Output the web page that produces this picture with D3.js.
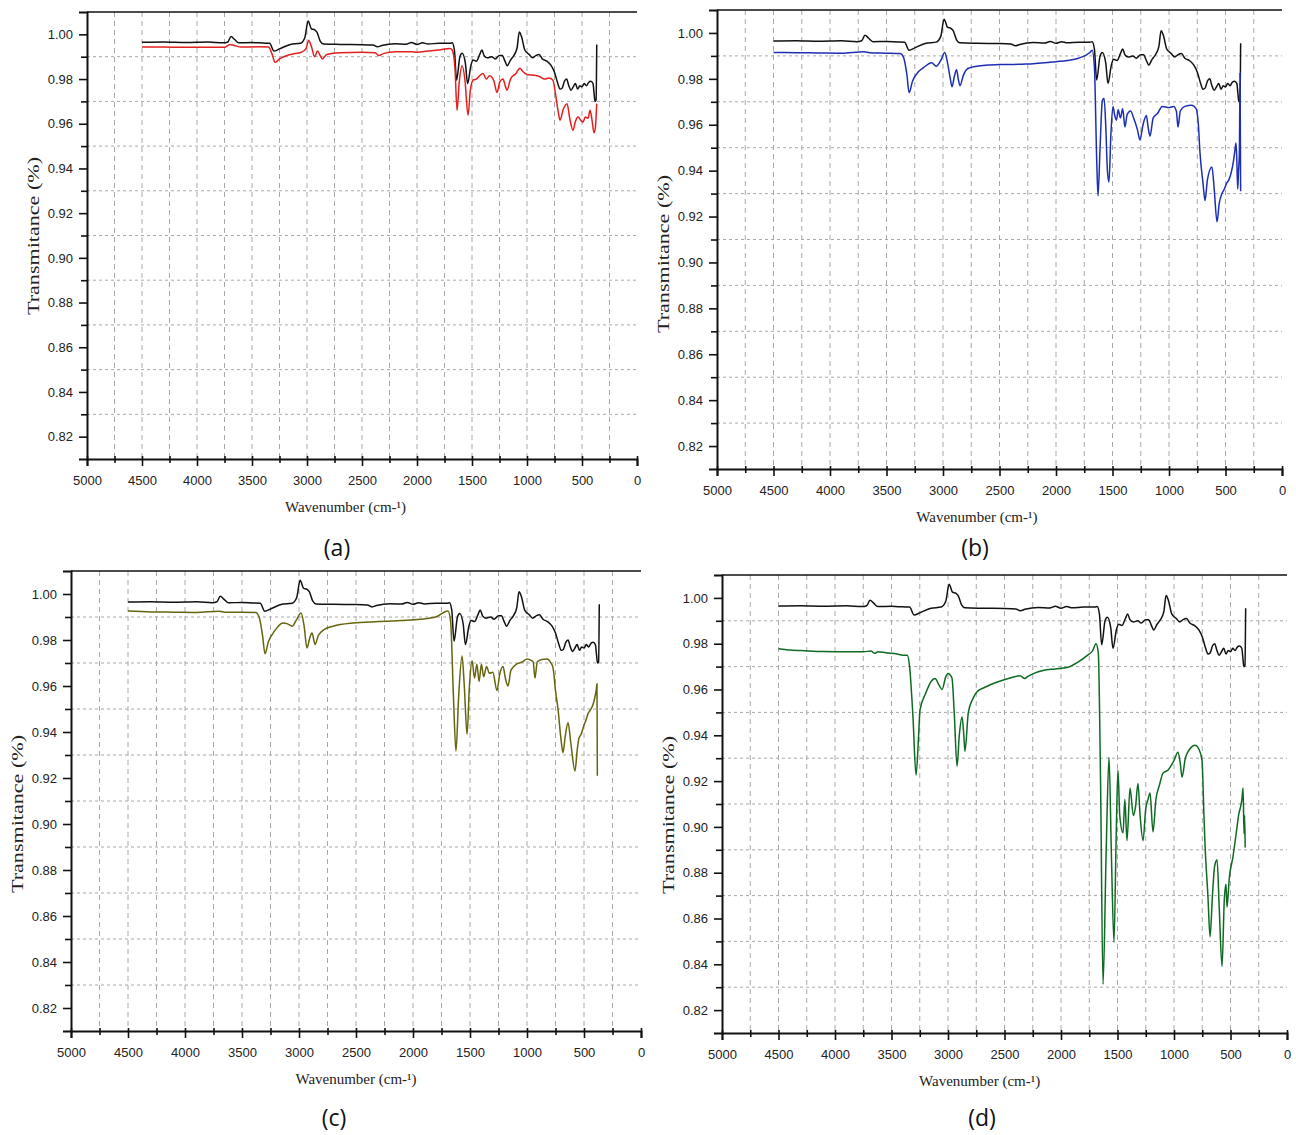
<!DOCTYPE html>
<html>
<head>
<meta charset="utf-8">
<script src="https://cdn.jsdelivr.net/npm/d3@7"></script>
<style>
  body { margin: 0; background: #fff; }
  svg { display: block; }
  .tick-label { font-family: "Liberation Sans", Arial, sans-serif; font-size: 13px; fill: #222; }
  .axis-title { font-family: "Liberation Serif", "Times New Roman", serif; font-size: 15px; fill: #222; }
  .panel-label { font-family: "Open Sans", "Noto Sans", sans-serif; font-size: 23px; fill: #111; }
</style>
</head>
<body>
<svg id="chart" width="1296" height="1135"></svg>
<script>
// FTIR spectra, [wavenumber, transmittance]
var reference = [
  [4500,0.9965],[4300,0.9966],[4100,0.9964],[3900,0.9966],[3760,0.9962],[3720,0.9966],[3690,0.999],[3660,0.9978],[3620,0.9962],
  [3500,0.9963],[3400,0.9961],[3340,0.996],[3300,0.9925],[3250,0.9935],[3150,0.9955],[3060,0.996],[3020,0.9985],[2990,1.006],
  [2960,1.0025],[2930,1.002],[2910,1.001],[2880,0.997],[2850,0.9957],[2700,0.9955],[2500,0.9954],[2400,0.9952],[2360,0.9944],
  [2320,0.995],[2200,0.9958],[2100,0.9956],[2050,0.9963],[2000,0.9955],[1950,0.9962],[1900,0.9957],[1800,0.996],[1700,0.996],
  [1680,0.9962],[1660,0.993],[1640,0.9795],[1610,0.990],[1590,0.9915],[1560,0.987],[1540,0.978],[1510,0.986],[1490,0.9885],
  [1460,0.988],[1430,0.991],[1410,0.993],[1390,0.9905],[1360,0.9895],[1320,0.990],[1290,0.989],[1250,0.9905],[1225,0.9905],
  [1200,0.988],[1180,0.986],[1150,0.9885],[1120,0.9905],[1090,0.994],[1070,1.001],[1050,0.999],[1020,0.993],[980,0.991],
  [950,0.9895],[920,0.9905],[890,0.991],[860,0.989],[820,0.988],[780,0.986],[750,0.983],[720,0.978],[700,0.9755],[680,0.976],
  [660,0.979],[640,0.980],[620,0.977],[600,0.975],[580,0.9765],[560,0.978],[540,0.9755],[520,0.977],[500,0.9765],[480,0.978],
  [460,0.977],[440,0.9785],[420,0.979],[400,0.978],[390,0.9735],[382,0.970],[372,0.9705],[366,0.9955]
];

var sampleA = [
  [4500,0.9943],[4300,0.9943],[4100,0.9942],[3900,0.9942],[3750,0.9942],[3700,0.9955],[3660,0.995],[3600,0.9943],[3450,0.9944],
  [3350,0.9943],[3320,0.9915],[3290,0.9875],[3250,0.989],[3150,0.991],[3050,0.992],[3010,0.9935],[2985,0.9972],[2960,0.9945],
  [2930,0.990],[2905,0.9925],[2880,0.9905],[2860,0.989],[2820,0.991],[2700,0.9918],[2500,0.992],[2380,0.9918],[2350,0.9905],
  [2300,0.9915],[2200,0.9922],[2050,0.9922],[2000,0.992],[1900,0.9925],[1800,0.993],[1700,0.9937],[1680,0.993],[1655,0.985],
  [1636,0.966],[1615,0.979],[1590,0.986],[1565,0.980],[1536,0.9638],[1515,0.975],[1490,0.9795],[1460,0.980],[1430,0.9815],
  [1400,0.9825],[1370,0.980],[1340,0.9815],[1300,0.979],[1273,0.974],[1245,0.979],[1218,0.980],[1195,0.9765],[1182,0.975],
  [1150,0.980],[1100,0.9825],[1064,0.9848],[1040,0.9835],[1000,0.982],[945,0.9817],[910,0.9815],[882,0.981],[840,0.980],
  [800,0.9805],[764,0.9795],[740,0.973],[715,0.965],[700,0.9616],[670,0.9665],[636,0.969],[610,0.962],[582,0.957],[560,0.961],
  [536,0.963],[510,0.9615],[491,0.9607],[470,0.963],[445,0.9625],[427,0.966],[410,0.962],[391,0.956],[378,0.9585],[366,0.969]
];

var sampleB = [
  [4500,0.9915],[4300,0.9914],[4100,0.9913],[3900,0.9912],[3700,0.9918],[3650,0.9914],[3500,0.9912],[3380,0.991],[3350,0.9895],
  [3320,0.982],[3300,0.974],[3270,0.979],[3220,0.983],[3170,0.985],[3100,0.987],[3060,0.9855],[3020,0.988],[2985,0.9915],
  [2960,0.987],[2935,0.980],[2920,0.9766],[2900,0.981],[2880,0.984],[2865,0.980],[2850,0.977],[2820,0.9815],[2780,0.9845],
  [2700,0.9855],[2600,0.986],[2500,0.9863],[2400,0.9862],[2300,0.9864],[2200,0.9866],[2100,0.987],[2000,0.9875],[1900,0.988],
  [1800,0.989],[1700,0.9915],[1680,0.9925],[1660,0.985],[1640,0.945],[1628,0.929],[1610,0.950],[1590,0.9705],[1575,0.9716],
  [1560,0.960],[1545,0.940],[1531,0.935],[1515,0.955],[1496,0.968],[1480,0.964],[1465,0.962],[1450,0.9665],[1430,0.963],
  [1410,0.967],[1390,0.959],[1370,0.9645],[1340,0.966],[1310,0.9625],[1280,0.958],[1257,0.9534],[1230,0.960],[1200,0.964],
  [1185,0.959],[1168,0.955],[1140,0.963],[1100,0.965],[1060,0.968],[1000,0.9675],[960,0.968],[935,0.966],[920,0.959],
  [900,0.966],[860,0.968],[800,0.9685],[760,0.967],[740,0.960],[726,0.948],[700,0.935],[681,0.927],[660,0.936],[620,0.9416],
  [600,0.932],[575,0.9177],[555,0.926],[531,0.930],[510,0.932],[490,0.9345],[470,0.936],[450,0.939],[430,0.944],[415,0.9495],
  [407,0.952],[400,0.945],[392,0.932],[385,0.9395],[377,0.948],[371,0.9825],[366,0.931]
];

var sampleC = [
  [4500,0.9926],[4300,0.9922],[4100,0.9921],[3900,0.992],[3700,0.9925],[3650,0.9921],[3500,0.9921],[3380,0.992],[3350,0.990],
  [3320,0.982],[3298,0.974],[3270,0.979],[3220,0.9835],[3140,0.9874],[3100,0.987],[3060,0.986],[3020,0.989],[2982,0.9917],
  [2955,0.986],[2930,0.9765],[2905,0.981],[2886,0.983],[2870,0.980],[2860,0.978],[2830,0.982],[2780,0.9845],[2700,0.986],
  [2526,0.9874],[2300,0.988],[2100,0.9885],[1939,0.989],[1800,0.990],[1693,0.9926],[1670,0.988],[1645,0.955],[1623,0.9317],
  [1600,0.955],[1570,0.973],[1550,0.960],[1526,0.939],[1505,0.960],[1482,0.971],[1460,0.9635],[1440,0.9695],[1420,0.962],
  [1400,0.9695],[1380,0.964],[1355,0.9685],[1330,0.9655],[1300,0.966],[1263,0.958],[1240,0.965],[1210,0.9685],[1190,0.9635],
  [1167,0.960],[1140,0.967],[1088,0.9696],[1040,0.9705],[1000,0.9717],[960,0.971],[946,0.9705],[930,0.9635],[910,0.9705],
  [870,0.9715],[825,0.9717],[790,0.970],[772,0.968],[750,0.958],[728,0.950],[700,0.936],[684,0.931],[665,0.938],[640,0.944],
  [615,0.935],[579,0.923],[560,0.932],[544,0.9374],[525,0.939],[500,0.943],[480,0.9455],[465,0.948],[445,0.9495],[421,0.952],
  [405,0.955],[392,0.9585],[386,0.961],[383,0.921]
];

var sampleD = [
  [4500,0.9778],[4400,0.9772],[4300,0.977],[4100,0.9766],[3900,0.9765],[3750,0.9765],[3680,0.9768],[3650,0.9758],[3620,0.9765],
  [3550,0.976],[3450,0.9755],[3400,0.975],[3360,0.975],[3340,0.970],[3310,0.948],[3283,0.9226],[3260,0.940],[3248,0.951],
  [3200,0.958],[3150,0.9635],[3115,0.9648],[3080,0.962],[3053,0.960],[3020,0.9655],[3000,0.967],[2965,0.965],[2945,0.950],
  [2920,0.9265],[2900,0.940],[2876,0.948],[2860,0.940],[2850,0.933],[2820,0.950],[2780,0.956],[2743,0.959],[2673,0.961],
  [2550,0.9635],[2451,0.965],[2363,0.966],[2320,0.9648],[2300,0.9655],[2159,0.9683],[2050,0.969],[1947,0.9696],[1850,0.972],
  [1770,0.9748],[1720,0.977],[1690,0.980],[1670,0.976],[1650,0.920],[1628,0.8313],[1600,0.890],[1575,0.9304],[1555,0.890],
  [1531,0.8496],[1512,0.895],[1496,0.9248],[1480,0.905],[1451,0.8974],[1435,0.912],[1416,0.894],[1389,0.917],[1360,0.905],
  [1340,0.909],[1319,0.919],[1300,0.905],[1274,0.894],[1250,0.908],[1230,0.912],[1212,0.9148],[1186,0.8978],[1160,0.912],
  [1130,0.918],[1097,0.9235],[1050,0.925],[1000,0.929],[965,0.9326],[945,0.928],[929,0.9217],[900,0.930],[860,0.934],
  [814,0.9357],[780,0.934],[752,0.929],[735,0.905],[726,0.893],[700,0.870],[681,0.852],[660,0.870],[640,0.883],[619,0.8857],
  [600,0.865],[575,0.839],[555,0.868],[540,0.875],[531,0.865],[510,0.878],[478,0.887],[450,0.897],[425,0.906],[410,0.909],
  [400,0.9117],[389,0.917],[380,0.897],[375,0.905],[370,0.891]
];

var xMajor = [5000, 4500, 4000, 3500, 3000, 2500, 2000, 1500, 1000, 500, 0];
var xMinor = [4750, 4250, 3750, 3250, 2750, 2250, 1750, 1250, 750, 250];
var yMajor = [1.00, 0.98, 0.96, 0.94, 0.92, 0.90, 0.88, 0.86, 0.84, 0.82];
var yMinor = [0.99, 0.97, 0.95, 0.93, 0.91, 0.89, 0.87, 0.85, 0.83];

var panels = [
  { id: "(a)", data: sampleA, color: "#e3201f", left: 87,  right: 637,  top: 12,  bottom: 459,  xt: 2650, yt: 33,  ytc: 236, lx: 337, ly: 548 },
  { id: "(b)", data: sampleB, color: "#1c2fb3", left: 717, right: 1282, top: 10,  bottom: 469,  xt: 2700, yt: 663, ytc: 254, lx: 975, ly: 548 },
  { id: "(c)", data: sampleC, color: "#66650e", left: 71,  right: 641,  top: 571, bottom: 1031, xt: 2500, yt: 17,  ytc: 814, lx: 334, ly: 1118 },
  { id: "(d)", data: sampleD, color: "#0e6a22", left: 722, right: 1287, top: 575, bottom: 1033, xt: 2720, yt: 668, ytc: 815, lx: 982, ly: 1118 }
];

var svg = d3.select("#chart");

panels.forEach(function (p) {
  var x = d3.scaleLinear().domain([5000, 0]).range([p.left, p.right]);
  var y = d3.scaleLinear().domain([0.81, 1.01]).range([p.bottom, p.top]);
  var g = svg.append("g");

  // dashed grid
  g.selectAll(".vgrid").data(xMajor.concat(xMinor).filter(function (v) { return v > 0 && v < 5000; }))
    .enter().append("line")
    .attr("x1", function (d) { return x(d); }).attr("x2", function (d) { return x(d); })
    .attr("y1", p.top).attr("y2", p.bottom)
    .attr("stroke", "#a8a8a8").attr("stroke-width", 1).attr("stroke-dasharray", "5,4");
  g.selectAll(".hgrid").data(yMinor)
    .enter().append("line")
    .attr("x1", p.left).attr("x2", p.right)
    .attr("y1", function (d) { return y(d); }).attr("y2", function (d) { return y(d); })
    .attr("stroke", "#a8a8a8").attr("stroke-width", 1).attr("stroke-dasharray", "3,3");

  // top frame line
  g.append("line").attr("x1", p.left).attr("x2", p.right).attr("y1", p.top).attr("y2", p.top)
    .attr("stroke", "#111").attr("stroke-width", 1.6);

  var line = d3.line()
    .x(function (d) { return x(d[0]); })
    .y(function (d) { return y(d[1]); })
    .curve(d3.curveMonotoneX);

  g.append("path").datum(reference).attr("d", line)
    .attr("fill", "none").attr("stroke", "#111").attr("stroke-width", 1.5);
  g.append("path").datum(p.data).attr("d", line)
    .attr("fill", "none").attr("stroke", p.color).attr("stroke-width", 1.5);

  // x axis
  var xAxis = g.append("g").attr("transform", "translate(0," + p.bottom + ")")
    .call(d3.axisBottom(x).tickValues(xMajor).tickSize(7).tickPadding(10).tickFormat(d3.format("d")));
  xAxis.selectAll(".tick line").attr("y1", -3);
  g.append("g").attr("transform", "translate(0," + p.bottom + ")")
    .call(d3.axisBottom(x).tickValues(xMinor).tickSize(4).tickFormat(""))
    .call(function (s) { s.select(".domain").remove(); s.selectAll(".tick line").attr("y1", -3); });

  // y axis
  g.append("g").attr("transform", "translate(" + p.left + ",0)")
    .call(d3.axisLeft(y).tickValues(yMajor).tickSize(8).tickPadding(6).tickFormat(d3.format(".2f")));
  g.append("g").attr("transform", "translate(" + p.left + ",0)")
    .call(d3.axisLeft(y).tickValues(yMinor).tickSize(6).tickFormat(""))
    .call(function (s) { s.select(".domain").remove(); });

  g.selectAll(".domain").attr("stroke", "#111").attr("stroke-width", 2);
  g.selectAll(".tick line").attr("stroke", "#111").attr("stroke-width", 1.6);
  g.selectAll(".tick text").attr("class", "tick-label").attr("font-family", null).attr("font-size", null);

  g.append("text").attr("class", "axis-title")
    .attr("x", x(p.xt)).attr("y", p.bottom + 53).attr("text-anchor", "middle")
    .text("Wavenumber (cm-\u00b9)");
  // the vertical title is stretched in the source figure
  g.append("text").attr("class", "axis-title")
    .attr("transform", "translate(" + p.yt + "," + p.ytc + ") rotate(-90)")
    .attr("text-anchor", "middle").attr("dy", "0.35em")
    .style("font-size", "16px")
    .attr("textLength", 158).attr("lengthAdjust", "spacingAndGlyphs")
    .text("Transmitance (%)");
  g.append("text").attr("class", "panel-label")
    .attr("x", p.lx).attr("y", p.ly).attr("dy", "0.35em").attr("text-anchor", "middle")
    .text(p.id);
});
</script>
</body>
</html>
